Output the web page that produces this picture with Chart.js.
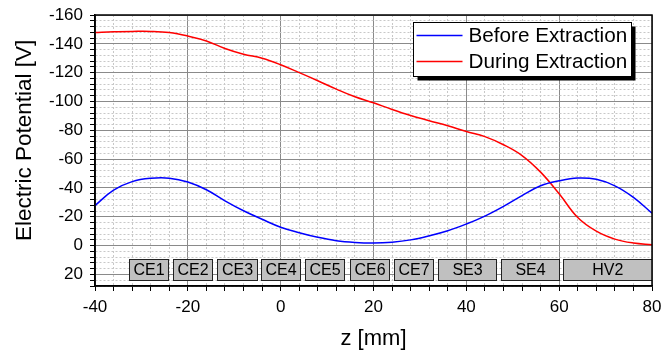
<!DOCTYPE html>
<html>
<head>
<meta charset="utf-8">
<script src="https://cdn.jsdelivr.net/npm/chart.js@4"></script>
<style>
  body { margin: 0; background: #fff; }
  canvas { display: block; }
</style>
</head>
<body>
<canvas id="potentialChart" width="662" height="351"></canvas>
<script>
// ---------------- Data ----------------
const zValues = [-40, -36, -32, -28, -24, -20, -16, -12, -8, -4, 0, 4, 8, 12, 16, 20,
                 24, 28, 32, 36, 40, 44, 48, 52, 56, 60, 64, 68, 72, 76, 80];
const beforeExtraction = [-27.8, -38.5, -44.4, -46.7, -46.8, -44.2, -38.8, -31.1, -24.2, -18.3,
                          -12.8, -9.0, -5.8, -3.4, -2.2, -1.8, -2.4, -4.0, -6.8, -10.3,
                          -15.0, -20.5, -27.2, -34.7, -41.5, -45.0, -46.9, -46.0, -41.5, -33.5, -22.5];
const duringExtraction = [-147.9, -148.4, -148.6, -148.6, -147.8, -145.4, -142.0, -136.8, -132.8, -130.0,
                          -125.5, -120.0, -114.4, -108.6, -103.3, -99.1, -94.5, -90.3, -86.7, -83.2,
                          -79.2, -75.6, -70.0, -62.5, -51.0, -36.0, -19.5, -10.0, -4.5, -1.8, -0.7];

const electrodeLabels = ["CE1", "CE2", "CE3", "CE4", "CE5", "CE6", "CE7", "SE3", "SE4", "HV2"];
const electrodeStart = [-32.7, -23.2, -13.7, -4.2, 5.2, 14.9, 24.4, 33.8, 47.4, 60.8];
const electrodeEnd = [-24.3, -14.7, -5.2, 4.2, 13.7, 23.4, 32.8, 46.3, 59.9, 82];

const xTitle = "z [mm]";
const yTitle = "Electric Potential [V]";

const FONT = "'Liberation Sans', Arial, sans-serif";

// ---------------- Electrode boxes ----------------
const electrodePlugin = {
    id: "electrodes",
    beforeDatasetsDraw(chart) {
        const { ctx, chartArea, scales: { x, y } } = chart;
        const top = Math.round(y.getPixelForValue(9)) + 0.5;
        const bottom = Math.round(y.getPixelForValue(24)) + 0.5;
        ctx.save();
        ctx.beginPath();
        ctx.rect(chartArea.left, chartArea.top, chartArea.right - chartArea.left, chartArea.bottom - chartArea.top);
        ctx.clip();
        ctx.font = "16px " + FONT;
        ctx.textAlign = "center";
        ctx.textBaseline = "middle";
        electrodeLabels.forEach((label, i) => {
            const x1 = Math.round(x.getPixelForValue(electrodeStart[i])) + 0.5;
            const x2 = Math.round(x.getPixelForValue(electrodeEnd[i])) + 0.5;
            ctx.fillStyle = "#c0c0c0";
            ctx.fillRect(x1, top, x2 - x1, bottom - top);
            ctx.strokeStyle = "#222";
            ctx.lineWidth = 1;
            ctx.strokeRect(x1, top, x2 - x1, bottom - top);
            const cx = (x1 + Math.min(x2, chartArea.right)) / 2;
            ctx.fillStyle = "#000";
            ctx.fillText(label, cx, (top + bottom) / 2 + 1);
        });
        ctx.restore();
    }
};

// ---------------- Frame, axis titles, legend ----------------
const framePlugin = {
    id: "frameLegend",
    afterDraw(chart) {
        const { ctx, chartArea, scales: { x, y } } = chart;
        ctx.save();
        ctx.strokeStyle = "#000";
        ctx.lineWidth = 1.5;
        ctx.strokeRect(chartArea.left, chartArea.top, chartArea.right - chartArea.left, chartArea.bottom - chartArea.top);

        // axis titles
        ctx.fillStyle = "#000";
        ctx.textAlign = "center";
        ctx.textBaseline = "alphabetic";
        ctx.font = "22px " + FONT;
        ctx.fillText(xTitle, (chartArea.left + chartArea.right) / 2, 345);
        ctx.save();
        ctx.translate(31, y.getPixelForValue(-80) + 10);
        ctx.rotate(-Math.PI / 2);
        ctx.font = "22.5px " + FONT;
        ctx.fillText(yTitle, 0, 0);
        ctx.restore();

        // legend box in the upper right corner
        ctx.font = "20.7px " + FONT;
        const ds = chart.data.datasets;
        const textW = Math.max(...ds.map(d => ctx.measureText(d.label).width));
        const boxW = Math.round(55 + textW + 4);
        const boxH = 54;
        const left = Math.round(chartArea.right - 21 - boxW) + 0.5;
        const top = Math.round(chartArea.top + 7) + 0.5;
        ctx.fillStyle = "#000";
        ctx.fillRect(left + 4, top + 4, boxW, boxH);
        ctx.fillStyle = "#fff";
        ctx.fillRect(left, top, boxW, boxH);
        ctx.lineWidth = 1;
        ctx.strokeStyle = "#000";
        ctx.strokeRect(left, top, boxW, boxH);
        ctx.textBaseline = "middle";
        ctx.textAlign = "left";
        ds.forEach((d, i) => {
            const cy = top + 13 + i * 26;
            ctx.strokeStyle = d.borderColor;
            ctx.lineWidth = 1.5;
            ctx.beginPath();
            ctx.moveTo(left + 3, cy);
            ctx.lineTo(left + 49, cy);
            ctx.stroke();
            ctx.fillStyle = "#000";
            ctx.fillText(d.label, left + 55, cy + 1);
        });
        ctx.restore();
    }
};

const isMajor = v => Math.abs(v % 20) < 1e-6;

const gridOpts = {
    color: c => (c.tick && isMajor(c.tick.value)) ? "#8a8a8a" : "#c8c8c8",
    lineWidth: 1,
    tickColor: "#000",
    tickLength: 5,
    tickWidth: 1
};
const borderOpts = {
    color: "#000",
    width: 1.5,
    dash: c => (c.tick && !isMajor(c.tick.value)) ? [2, 2] : []
};

const ctx = document.getElementById("potentialChart").getContext("2d");
new Chart(ctx, {
    type: "line",
    data: {
        labels: zValues,
        datasets: [{
            label: "Before Extraction",
            data: zValues.map((z, i) => ({ x: z, y: beforeExtraction[i] })),
            borderColor: "#0000ff",
            borderWidth: 1.5,
            pointRadius: 0,
            tension: 0.4,
            fill: false
        }, {
            label: "During Extraction",
            data: zValues.map((z, i) => ({ x: z, y: duringExtraction[i] })),
            borderColor: "#ff0000",
            borderWidth: 1.5,
            pointRadius: 0,
            tension: 0.4,
            fill: false
        }]
    },
    options: {
        responsive: false,
        animation: false,
        layout: { padding: { top: 15, right: 10, left: 0, bottom: 0 } },
        plugins: { legend: { display: false }, tooltip: { enabled: false } },
        scales: {
            x: {
                type: "linear",
                min: -40,
                max: 80,
                afterFit: s => { s.height = 65; s.paddingLeft = 0; s.paddingRight = 0; },
                ticks: {
                    stepSize: 4,
                    autoSkip: false,
                    maxRotation: 0,
                    padding: 6,
                    color: "#000",
                    font: { family: FONT, size: 17 },
                    callback: v => isMajor(v) ? v : ""
                },
                grid: gridOpts,
                border: borderOpts
            },
            y: {
                type: "linear",
                reverse: true,
                min: -160,
                max: 28,
                afterFit: s => { s.width = 95; s.paddingTop = 0; s.paddingBottom = 0; },
                ticks: {
                    stepSize: 4,
                    autoSkip: false,
                    padding: 7,
                    color: "#000",
                    font: { family: FONT, size: 17 },
                    callback: v => isMajor(v) ? v : ""
                },
                grid: gridOpts,
                border: borderOpts
            }
        }
    },
    plugins: [electrodePlugin, framePlugin]
});
</script>
</body>
</html>
